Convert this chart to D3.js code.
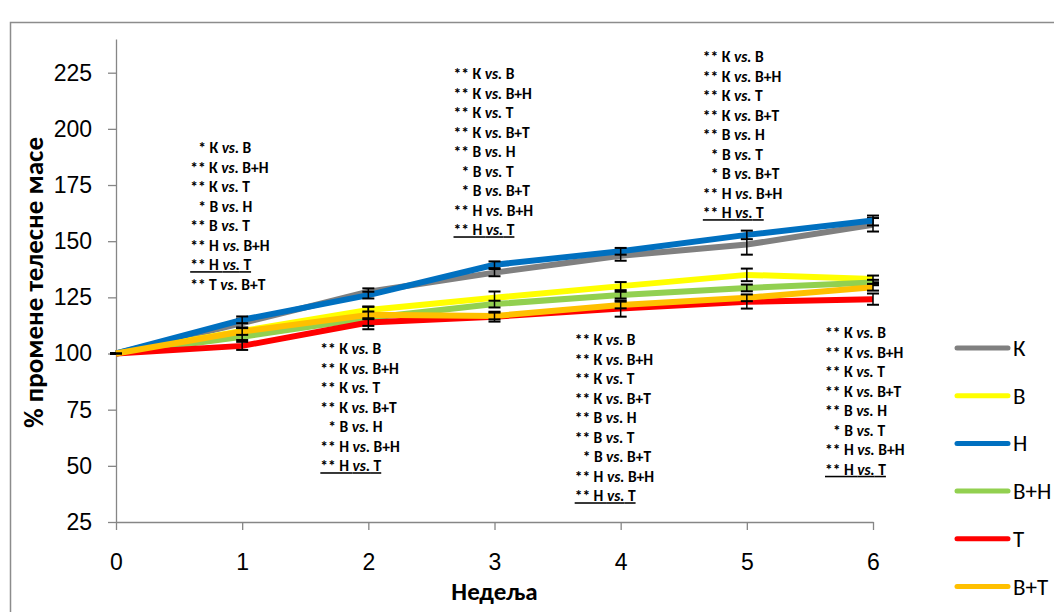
<!DOCTYPE html>
<html>
<head>
<meta charset="utf-8">
<script src="https://cdn.jsdelivr.net/npm/d3@7"></script>
<style>
  body { margin: 0; background: #fff; }
  svg { font-family: Carlito, Calibri, Roboto, sans-serif; }
  .axis path, .axis line { stroke: #868686; stroke-width: 1.3; }
  .axis text { font-size: 23px; fill: #000; }
  .note { font-size: 15.5px; font-weight: bold; fill: #000; white-space: pre; }
</style>
</head>
<body>
<svg id="chart"></svg>
<script>
// weeks on the x axis
const weeks = [0, 1, 2, 3, 4, 5, 6];
const yTicks = [25, 50, 75, 100, 125, 150, 175, 200, 225];

// group names (legend order)
const groups = ["К", "В", "Н", "В+Н", "Т", "В+Т"];

// % change of body mass
const valK  = [100, 113.5, 127.5, 136, 143.5, 148.5, 157.3];
const valB  = [100, 110, 119.4, 124.8, 130, 135, 133.2];
const valH  = [100, 115, 126, 139.5, 145.5, 152.8, 159.2];
const valBH = [100, 107.5, 115.8, 122, 126, 129.2, 131.6];
const valT  = [100, 103.4, 113.8, 116.4, 120, 123, 124.2];
const valBT = [100, 109.8, 117.2, 116.7, 121.6, 124.8, 129.5];

// error bar half-lengths (estimated)
const errK  = [0, 2, 1.5, 1.6, 2.2, 4.5, 3];
const errB  = [0, 1.5, 1.5, 2.8, 1.8, 2.8, 1.5];
const errH  = [0, 1.5, 1.5, 1.5, 1.5, 1.9, 2.2];
const errBH = [0, 1.5, 5, 1.5, 1.5, 1.5, 1.2];
const errT  = [0, 1.8, 1.5, 2.2, 3.6, 3, 2.5];
const errBT = [0, 1.5, 1.5, 1.5, 1.5, 1.5, 1.5];

// significance notes per week ("stars|left|right|underline")
const notesW1 = ["*|К|В", "**|К|В+Н", "**|К|Т", "*|В|Н", "**|В|Т", "**|Н|В+Н", "**|Н|Т|u", "**|Т|В+Т"];
const notesW2 = ["**|К|В", "**|К|В+Н", "**|К|Т", "**|К|В+Т", "*|В|Н", "**|Н|В+Н", "**|Н|Т|u"];
const notesW3 = ["**|К|В", "**|К|В+Н", "**|К|Т", "**|К|В+Т", "**|В|Н", "*|В|Т", "*|В|В+Т", "**|Н|В+Н", "**|Н|Т|u"];
const notesW4 = ["**|К|В", "**|К|В+Н", "**|К|Т", "**|К|В+Т", "**|В|Н", "**|В|Т", "*|В|В+Т", "**|Н|В+Н", "**|Н|Т|u"];
const notesW5 = ["**|К|В", "**|К|В+Н", "**|К|Т", "**|К|В+Т", "**|В|Н", "*|В|Т", "*|В|В+Т", "**|Н|В+Н", "**|Н|Т|u"];
const notesW6 = ["**|К|В", "**|К|В+Н", "**|К|Т", "**|К|В+Т", "**|В|Н", "*|В|Т", "**|Н|В+Н", "**|Н|Т|u"];

const colors = ["#808080", "#ffff00", "#0070c0", "#92d050", "#ff0000", "#ffc000"];
const values = [valK, valB, valH, valBH, valT, valBT];
const errors = [errK, errB, errH, errBH, errT, errBT];

const series = groups.map((g, i) => ({
  name: g,
  color: colors[i],
  points: weeks.map((w, j) => ({ week: w, value: values[i][j], err: errors[i][j] }))
}));

// annotation anchors in data units: week the block sits by, value of first line
const noteBlocks = [
  { week: 1, top: 191.6, dx: -52, lines: notesW1 },
  { week: 2, top: 102.1, dx: -48, lines: notesW2 },
  { week: 3, top: 224.5, dx: -41, lines: notesW3 },
  { week: 4, top: 106.1, dx: -46, lines: notesW4 },
  { week: 5, top: 232.1, dx: -44, lines: notesW5 },
  { week: 6, top: 109.2, dx: -48, lines: notesW6 }
];

const W = 1054, H = 612;
const margin = { top: 39, right: 181, bottom: 90, left: 116 };

const svg = d3.select("#chart").attr("width", W).attr("height", H);

// chart frame
svg.append("rect")
  .attr("x", 10.5).attr("y", 22.5)
  .attr("width", W + 10).attr("height", H + 10)
  .attr("fill", "none").attr("stroke", "#8c8c8c").attr("stroke-width", 1.5);

const x = d3.scaleLinear().domain([0, 6]).range([margin.left, W - margin.right]);
const y = d3.scaleLinear().domain([25, 240]).range([H - margin.bottom, margin.top]);

// y axis
svg.append("g")
  .attr("class", "axis")
  .attr("transform", `translate(${margin.left},0)`)
  .call(d3.axisLeft(y).tickValues(yTicks).tickSize(8).tickPadding(16).tickSizeOuter(0));

// x axis
svg.append("g")
  .attr("class", "axis")
  .attr("transform", `translate(0,${y(25)})`)
  .call(d3.axisBottom(x).tickValues(weeks).tickSize(8).tickPadding(24).tickSizeOuter(0).tickFormat(d3.format("d")));

// axis titles
svg.append("text")
  .attr("transform", `translate(43,${(y(25) + margin.top) / 2 + 2}) rotate(-90)`)
  .attr("text-anchor", "middle")
  .style("font-size", "27px").style("font-weight", "bold")
  .text("% промене телесне масе");

svg.append("text")
  .attr("x", x(3)).attr("y", 600)
  .attr("text-anchor", "middle")
  .style("font-size", "25px").style("font-weight", "bold")
  .text("Недеља");

// lines + error bars, series by series
const line = d3.line().x(d => x(d.week)).y(d => y(d.value));

series.forEach(s => {
  const g = svg.append("g");
  g.append("path")
    .datum(s.points)
    .attr("d", line)
    .attr("fill", "none")
    .attr("stroke", s.color)
    .attr("stroke-width", 6)
    .attr("stroke-linejoin", "round");

  const eb = g.selectAll(".eb").data(s.points).enter().append("g");
  eb.append("line")
    .attr("x1", d => x(d.week)).attr("x2", d => x(d.week))
    .attr("y1", d => y(d.value - d.err)).attr("y2", d => y(d.value + d.err))
    .attr("stroke", "#000").attr("stroke-width", 1.5);
  [-1, 1].forEach(sign => {
    eb.append("line")
      .attr("x1", d => x(d.week) - 6).attr("x2", d => x(d.week) + 6)
      .attr("y1", d => y(d.value + sign * d.err)).attr("y2", d => y(d.value + sign * d.err))
      .attr("stroke", "#000").attr("stroke-width", 2);
  });
});

// significance notes
noteBlocks.forEach(b => {
  const g = svg.append("g")
    .attr("transform", `translate(${x(b.week) + b.dx},${y(b.top)})`);
  b.lines.forEach((ln, i) => {
    const [stars, left, right, u] = ln.split("|");
    const t = g.append("text")
      .attr("class", "note")
      .attr("x", stars.length === 1 ? 8 : 0)
      .attr("y", i * 19.5)
      .attr("dy", "0.35em");
    if (u) t.style("text-decoration", "underline");
    t.append("tspan").text(stars + " " + left + " ");
    t.append("tspan").style("font-style", "italic").text("vs.");
    t.append("tspan").text(" " + right);
  });
});

// legend
const legend = svg.append("g");
series.forEach((s, i) => {
  const ly = 348 + i * 47.7;
  legend.append("line")
    .attr("x1", 957).attr("x2", 1008)
    .attr("y1", ly).attr("y2", ly)
    .attr("stroke", s.color).attr("stroke-width", 5).attr("stroke-linecap", "round");
  legend.append("text")
    .attr("x", 1013).attr("y", ly)
    .attr("dy", "0.35em")
    .style("font-size", "23px")
    .text(s.name);
});
</script>
</body>
</html>
